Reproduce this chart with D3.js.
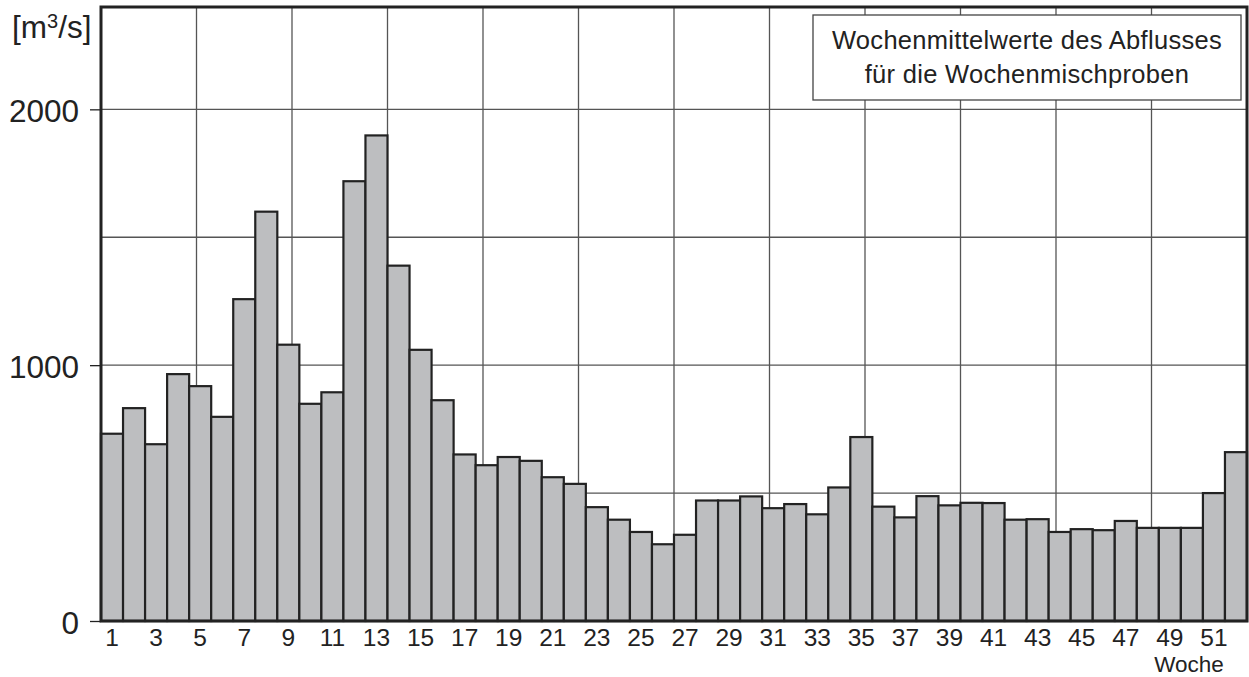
<!DOCTYPE html>
<html>
<head>
<meta charset="utf-8">
<script src="https://cdn.jsdelivr.net/npm/d3@7"></script>
<style>
  body { margin: 0; background: #fff; }
  text { font-family: "Liberation Sans", Arial, sans-serif; fill: #222; }
</style>
</head>
<body>
<div id="chart"></div>
<script>
// weekly mean discharge [m3/s], weeks 1..52
var weeks = d3.range(1, 53);
var discharge = [
  732, 832, 691, 965, 918, 798, 1258, 1600, 1080, 849,
  894, 1719, 1898, 1389, 1060, 863, 651, 609, 641, 626,
  562, 536, 445, 396, 348, 300, 337, 471, 471, 487,
  441, 457, 417, 522, 719, 447, 405, 488, 452, 462,
  461, 396, 398, 348, 359, 355, 391, 364, 364, 364,
  500, 660
];
var yTicks = [0, 1000, 2000];
var yGrid = [500, 1000, 1500, 2000];
var xTickWeeks = d3.range(1, 52, 2);
var legendLines = ["Wochenmittelwerte des Abflusses", "für die Wochenmischproben"];

// dimensions
var margin = { top: 7, right: 2, bottom: 56, left: 101 },
  width = 1249 - margin.left - margin.right,
  height = 677 - margin.top - margin.bottom;

var svg = d3.select("#chart")
  .append("svg")
  .attr("width", 1249)
  .attr("height", 677)
  .append("g")
  .attr("transform", "translate(" + margin.left + "," + margin.top + ")");

var x = d3.scaleBand().domain(weeks).range([0, width]).padding(0);
var y = d3.scaleLinear().domain([0, 2400]).range([height, 0]);
// the vertical grid splits the year into 12 equal parts
var m = d3.scaleLinear().domain([0, 12]).range([0, width]);

// grid
svg.selectAll(".hgrid").data(yGrid).enter().append("line")
  .attr("x1", 0).attr("x2", width)
  .attr("y1", function (d) { return y(d); })
  .attr("y2", function (d) { return y(d); })
  .attr("stroke", "#555").attr("stroke-width", 1.3);

svg.selectAll(".vgrid").data(d3.range(1, 12)).enter().append("line")
  .attr("x1", function (d) { return m(d); })
  .attr("x2", function (d) { return m(d); })
  .attr("y1", 0).attr("y2", height)
  .attr("stroke", "#555").attr("stroke-width", 1.3);

// legend box
var lg = svg.append("g");
lg.append("rect")
  .attr("x", 712).attr("y", 8).attr("width", 428).attr("height", 85)
  .attr("fill", "#fff").attr("stroke", "#444").attr("stroke-width", 1.3);
lg.selectAll("text").data(legendLines).enter().append("text")
  .attr("x", 926)
  .attr("y", function (d, i) { return 42 + i * 34; })
  .attr("text-anchor", "middle")
  .style("font-size", "25.5px")
  .style("letter-spacing", "0.3px")
  .text(function (d) { return d; });

// bars
svg.selectAll(".bar").data(discharge).enter().append("rect")
  .attr("x", function (d, i) { return x(weeks[i]); })
  .attr("width", x.bandwidth())
  .attr("y", function (d) { return y(d); })
  .attr("height", function (d) { return height - y(d); })
  .attr("fill", "#bdbec0")
  .attr("stroke", "#222")
  .attr("stroke-width", 2.2);

// frame
svg.append("rect")
  .attr("x", 0).attr("y", 0).attr("width", width).attr("height", height)
  .attr("fill", "none").attr("stroke", "#222").attr("stroke-width", 3);

// y axis
var yAxis = svg.append("g")
  .call(d3.axisLeft(y).tickValues(yTicks).tickSize(11).tickPadding(11).tickFormat(d3.format("d")));
yAxis.select(".domain").remove();
yAxis.selectAll(".tick line").attr("stroke", "#222").attr("stroke-width", 1.3);
yAxis.selectAll(".tick text").style("font-size", "31.5px").attr("dy", "0.4em").style("fill", "#222");

// x axis labels
var xAxis = svg.append("g")
  .attr("transform", "translate(0," + height + ")")
  .call(d3.axisBottom(x).tickValues(xTickWeeks).tickSize(0).tickPadding(8));
xAxis.select(".domain").remove();
xAxis.selectAll(".tick text").style("font-size", "24.5px").attr("dy", "0.71em").style("fill", "#222");

svg.append("text")
  .attr("x", 1088).attr("y", 665)
  .attr("text-anchor", "middle")
  .style("font-size", "22.5px")
  .text("Woche");

// unit label
var unit = svg.append("text")
  .attr("x", -89).attr("y", 31)
  .style("font-size", "31.5px");
unit.append("tspan").text("[m");
unit.append("tspan").attr("dy", -10).style("font-size", "20px").text("3");
unit.append("tspan").attr("dy", 10).text("/s]");
</script>
</body>
</html>
